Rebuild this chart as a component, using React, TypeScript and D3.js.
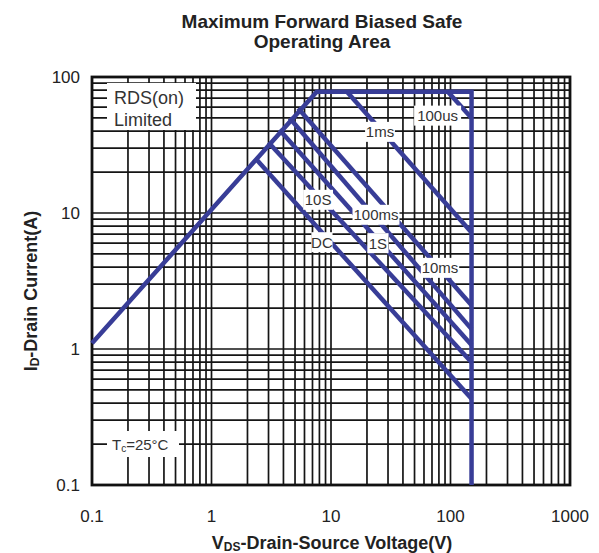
import React from 'react';
import * as d3 from 'd3';

// Safe operating area envelope (V, A)
const envelope: [number, number][] = [
  [0.1, 1.1],
  [7.6, 78],
  [150, 78],
  [150, 0.1],
];

// Pulse lines: start on envelope, end on the 150V limit
const pulseNames = ['100us', '1ms', '10ms', '100ms', '1S', '10S', 'DC'];
const pulseStart: [number, number][] = [
  [95, 78], [13.6, 78], [5.3, 59], [4.5, 50], [3.7, 41], [3.0, 33], [2.4, 24.5],
];
const pulseEnd: [number, number][] = [
  [150, 50], [150, 7.2], [150, 2.1], [150, 1.4], [150, 1.07], [150, 0.8], [150, 0.43],
];
// where each label sits (V, A)
const pulseLabelAt: [number, number][] = [
  [78, 52], [25.7, 39.5], [81.7, 3.95], [23.8, 9.7], [24.7, 6.0], [7.8, 12.5], [8.4, 6.1],
];

const xTicks = [0.1, 1, 10, 100, 1000];
const yTicks = [0.1, 1, 10, 100];

const W = 599;
const H = 553;
const margin = { top: 77, right: 29, bottom: 68, left: 92 };
const BLUE = '#383d97';
const FONT = '"Liberation Sans", Arial, sans-serif';

const App: React.FC = () => {
  const x = d3.scaleLog().domain([0.1, 1000]).range([margin.left, W - margin.right]);
  const y = d3.scaleLog().domain([0.1, 100]).range([H - margin.bottom, margin.top]);

  const minor = (lo: number, hi: number) => {
    const out: number[] = [];
    for (let d = lo; d < hi * 0.999; d *= 10) {
      for (let k = 1; k <= 9; k++) out.push(d * k);
    }
    out.push(hi);
    return out;
  };
  const xGrid = minor(0.1, 1000);
  const yGrid = minor(0.1, 100);

  const line = d3.line<[number, number]>().x(d => x(d[0])).y(d => y(d[1]));

  const x0 = x.range()[0], x1 = x.range()[1];
  const y0 = y.range()[1], y1 = y.range()[0];

  return (
    <svg width={W} height={H} style={{ position: 'absolute', left: 0, top: 0, background: '#fff' }}>
      <text x={322} y={28} textAnchor="middle" fontFamily={FONT} fontWeight="bold" fontSize={19} fill="#222">
        Maximum Forward Biased Safe
      </text>
      <text x={322} y={48} textAnchor="middle" fontFamily={FONT} fontWeight="bold" fontSize={19} fill="#222">
        Operating Area
      </text>

      {/* grid */}
      <g stroke="#151515" strokeWidth={1.7}>
        {xGrid.map((v, i) => (
          <line key={'gx' + i} x1={x(v)} x2={x(v)} y1={y0} y2={y1} />
        ))}
        {yGrid.map((v, i) => (
          <line key={'gy' + i} x1={x0} x2={x1} y1={y(v)} y2={y(v)} />
        ))}
      </g>
      <rect x={x0} y={y0} width={x1 - x0} height={y1 - y0} fill="none" stroke="#111" strokeWidth={2.8} />

      {/* curves */}
      <g fill="none" stroke={BLUE} strokeWidth={4.5} strokeLinejoin="miter">
        <path d={line(envelope) || ''} />
        {pulseNames.map((n, i) => (
          <path key={n} d={line([pulseStart[i], pulseEnd[i]]) || ''} />
        ))}
      </g>

      {/* labels */}
      <g fontFamily={FONT} fontSize={15} fill="#333">
        {pulseNames.map((n, i) => {
          const cx = x(pulseLabelAt[i][0]);
          const cy = y(pulseLabelAt[i][1]);
          const w = n.length * 8.6 + 4;
          return (
            <g key={'l' + n}>
              <rect x={cx - w / 2} y={cy - 10} width={w} height={20} fill="#fff" />
              <text x={cx} y={cy + 5.5} textAnchor="middle">{n}</text>
            </g>
          );
        })}
      </g>

      <g fontFamily={FONT} fill="#333">
        <rect x={107} y={83} width={89} height={47} fill="#fff" />
        <text x={114} y={104} fontSize={18}>RDS(on)</text>
        <text x={114} y={126} fontSize={18}>Limited</text>
        <rect x={107} y={431} width={72} height={26} fill="#fff" />
        <text x={112} y={450} fontSize={15}>
          T<tspan fontSize={10} dy={2}>c</tspan><tspan dy={-2}>=25°C</tspan>
        </text>
      </g>

      {/* ticks */}
      <g fontFamily={FONT} fontSize={17} fill="#222">
        {xTicks.map(v => (
          <text key={'tx' + v} x={x(v)} y={H - margin.bottom + 37} textAnchor="middle">{v}</text>
        ))}
        {yTicks.map(v => (
          <text key={'ty' + v} x={x0 - 12} y={y(v) + 6} textAnchor="end">{v}</text>
        ))}
      </g>

      <text x={332} y={549} textAnchor="middle" fontFamily={FONT} fontWeight="bold" fontSize={18} fill="#222">
        V<tspan fontSize={12} dy={2}>DS</tspan><tspan dy={-2}>-Drain-Source Voltage(V)</tspan>
      </text>
      <text transform={`translate(37,${(y0 + y1) / 2 + 10}) rotate(-90)`} textAnchor="middle" fontFamily={FONT}
        fontWeight="bold" fontSize={18} fill="#222">
        I<tspan fontSize={12} dy={2}>D</tspan><tspan dy={-2}>-Drain Current(A)</tspan>
      </text>
    </svg>
  );
};

export default App;
